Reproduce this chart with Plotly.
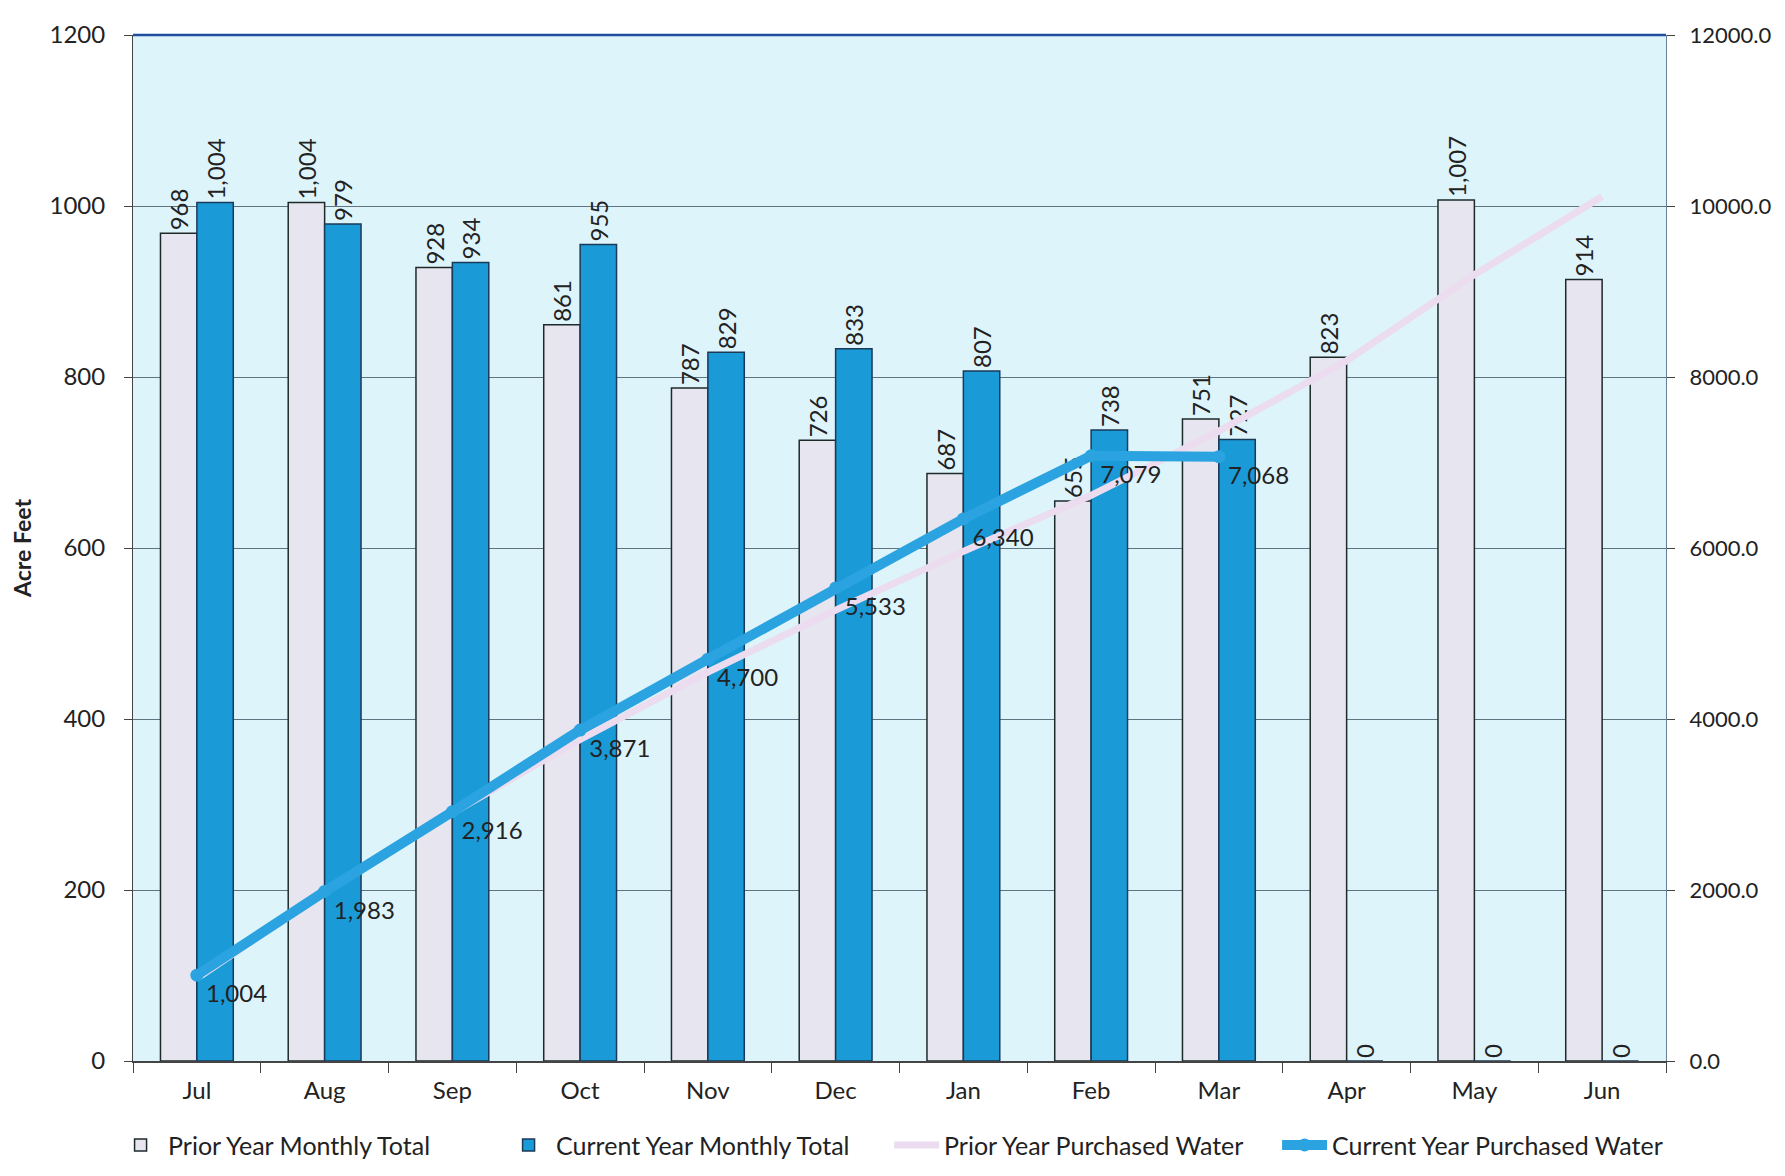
import plotly.graph_objects as go

months = ["Jul", "Aug", "Sep", "Oct", "Nov", "Dec", "Jan", "Feb", "Mar", "Apr", "May", "Jun"]
prior_monthly = [968, 1004, 928, 861, 787, 726, 687, 655, 751, 823, 1007, 914]
current_monthly = [1004, 979, 934, 955, 829, 833, 807, 738, 727, 0, 0, 0]
prior_purchased = [968, 1972, 2900, 3761, 4548, 5274, 5961, 6616, 7367, 8190, 9197, 10111]
current_months = ["Jul", "Aug", "Sep", "Oct", "Nov", "Dec", "Jan", "Feb", "Mar"]
current_purchased = [1004, 1983, 2916, 3871, 4700, 5533, 6340, 7079, 7068]

FONT = "Lato"
TXT = "#222222"

fig = go.Figure()
fig.add_trace(go.Bar(
    x=months, y=prior_monthly, name="Prior Year Monthly Total",
    marker=dict(color="#e7e5ef", line=dict(color="#1e2a2a", width=1.5)),
    texttemplate="%{y:,}", textposition="outside", textangle=-90,
    textfont=dict(family=FONT, size=24, color=TXT), constraintext="none",
    cliponaxis=False,
))
fig.add_trace(go.Bar(
    x=months, y=current_monthly, name="Current Year Monthly Total",
    marker=dict(color="#1a9bd8", line=dict(color="#1b3a58", width=1.5)),
    texttemplate="%{y:,}", textposition="outside", textangle=-90,
    textfont=dict(family=FONT, size=24, color=TXT), constraintext="none",
    cliponaxis=False,
))
fig.add_trace(go.Scatter(
    x=months, y=prior_purchased, name="Prior Year Purchased Water", yaxis="y2",
    mode="lines", line=dict(color="#ebdcf0", width=7),
))
fig.add_trace(go.Scatter(
    x=current_months, y=current_purchased, name="Current Year Purchased Water", yaxis="y2",
    mode="lines+markers+text", line=dict(color="#2aa3e0", width=10),
    marker=dict(color="#2aa3e0", size=13),
    text=[f"{v:,}" for v in current_purchased], textposition="bottom right",
    textfont=dict(family=FONT, size=24, color=TXT),
))

fig.update_layout(
    width=1785, height=1176,
    margin=dict(l=125, r=127, t=27, b=123, autoexpand=False),
    paper_bgcolor="white", plot_bgcolor="#def4fb",
    barmode="group", bargap=0.43, bargroupgap=0,
    font=dict(family=FONT, size=23, color=TXT),
    showlegend=True,
    legend=dict(orientation="h", x=-0.013, xanchor="left", y=-0.082, yanchor="middle",
                entrywidth=328, entrywidthmode="pixels", itemwidth=45,
                font=dict(family=FONT, size=25, color=TXT)),
    xaxis=dict(categoryorder="array", categoryarray=months, range=[-0.5, 11.5],
               automargin=False,
               showline=True, linecolor="#444444", linewidth=1.5,
               ticks="outside", ticklen=10, tickcolor="#444444", tickson="boundaries",
               tickfont=dict(family=FONT, size=24, color=TXT), ticklabelstandoff=7),
    yaxis=dict(range=[0, 1200], dtick=200, showgrid=True, gridcolor="#5f7480", gridwidth=1,
               showline=True, linecolor="#444444", linewidth=1, automargin=False,
               ticks="outside", ticklen=8, tickcolor="#444444",
               tickfont=dict(family=FONT, size=24, color=TXT), ticklabelstandoff=14,
               title=dict(text="<b>Acre Feet</b>", font=dict(family=FONT, size=23, color=TXT), standoff=12),
               zeroline=False),
    yaxis2=dict(range=[0, 12000], dtick=2000, overlaying="y", side="right",
                tickformat=".1f", showgrid=False, automargin=False,
                showline=True, linecolor="#6a7f9a", linewidth=1,
                ticks="outside", ticklen=8, tickcolor="#444444",
                tickfont=dict(family=FONT, size=22, color=TXT), ticklabelstandoff=10,
                zeroline=False),
    shapes=[dict(type="line", xref="paper", yref="paper", x0=0, x1=1, y0=1, y1=1,
                 line=dict(color="#1f4f9e", width=2.5))],
)

fig.write_html("out.html")
